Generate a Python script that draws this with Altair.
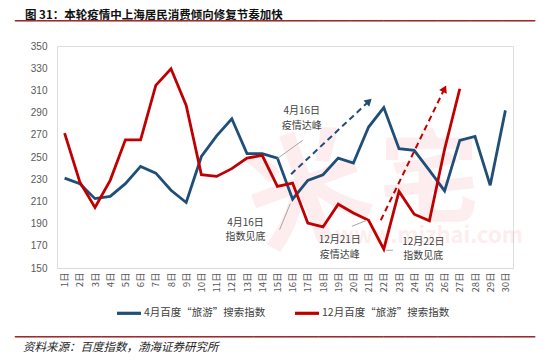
import altair as alt
import pandas as pd
import numpy as np

# ---------------- data ----------------
days = list(range(1, 31))
april = [231, 226, 212.5, 214.5, 226, 241.5, 235.5, 220, 209, 250.5,
         269, 284.5, 253, 253, 249, 212, 229, 234, 249, 244.5,
         277, 294.5, 257.5, 256, 238, 219.5, 265, 268.5, 224.5, 292]
december = [271.5, 227.5, 204.5, 229, 265.5, 265.5, 314.5, 329.5, 296.5, 234,
            232.5, 239.5, 249, 251.5, 223.5, 226.5, 190.5, 187, 207.5, 199.5,
            193, 167, 219, 198.5, 192.5, 257, 311.5]
series_names = ["4月百度“旅游”搜索指数", "12月百度“旅游”搜索指数"]
series_colors = ["#1F4E79", "#C00000"]
y_ticks = list(range(150, 351, 20))

# dashed trend arrows (start / tip in data units)
arrow_series = series_names
arrow_x0 = [15.9, 21.8]
arrow_y0 = [234.5, 193]
arrow_x1 = [21.2, 26.1]
arrow_y1 = [302.5, 314.5]

# annotation texts
ann_text = ["4月16日", "疫情达峰", "4月16日", "指数见底",
            "12月21日", "疫情达峰", "12月22日", "指数见底"]
ann_x = [16.6, 16.6, 12.9, 12.9, 19.1, 19.1, 24.6, 24.6]
ann_y = [291, 278.2, 190.5, 177.7, 174.8, 162, 173.2, 160.4]

# leader lines
leader_x0 = [16.66, 15.15, 19.9, 22.15]
leader_y0 = [265, 184.6, 187.6, 166]
leader_x1 = [15.0, 15.85, 20.9, 22.6]
leader_y1 = [248.6, 208, 193, 166]

title_text = "图 31：本轮疫情中上海居民消费倾向修复节奏加快"
source_text = "资料来源：百度指数，渤海证券研究所"

# ---------------- layout ----------------
W, H = 456, 222
XDOM = [0.5, 30.5]
YDOM = [150, 350]
px_per_day = W / (XDOM[1] - XDOM[0])
px_per_unit = H / (YDOM[1] - YDOM[0])
CJK = "Noto Sans CJK SC"

rows = []
for d, v in zip(days, april):
    rows.append({"day": d, "value": v, "series": series_names[0]})
for d, v in zip(days, december):
    rows.append({"day": d, "value": v, "series": series_names[1]})
df = pd.DataFrame(rows)

xs = alt.Scale(domain=XDOM, nice=False, zero=False)
ys = alt.Scale(domain=YDOM, nice=False, zero=False)
cs = alt.Scale(domain=series_names, range=series_colors)

x_axis = alt.Axis(values=days, labelExpr="datum.value + '日'", labelAngle=270,
                  title=None, grid=False, ticks=False, domain=True,
                  domainColor="#d9d9d9", domainWidth=1.2, labelFontSize=9.5,
                  labelFont=CJK, labelColor="#595959", labelPadding=4,
                  labelOverlap=False, labelFlush=False, labelBound=False)
y_axis = alt.Axis(values=y_ticks, title=None, grid=False, ticks=False,
                  domain=False, labelFontSize=10, labelFont="Liberation Sans",
                  labelColor="#595959", labelPadding=10, labelOverlap=False,
                  labelFlush=False, labelBound=False)


def X(field):
    return alt.X(field, scale=xs, axis=x_axis)


def Y(field):
    return alt.Y(field, scale=ys, axis=y_axis)


# watermark
wm = pd.DataFrame({"t": ["米", "宅", "www.mizhai.com"],
                   "px": [252, 372, 372], "py": [150, 138, 190],
                   "sz": [120, 100, 22], "ang": [340, 0, 0]})
watermark = alt.Chart(wm).mark_text(font=CJK, color="#EE5A5F", opacity=0.1,
                                    align="center", baseline="middle", fontWeight="bold").encode(
    x=alt.X("px:Q", scale=None), y=alt.Y("py:Q", scale=None),
    text="t:N", size=alt.Size("sz:Q", scale=None, legend=None),
    angle=alt.Angle("ang:Q", scale=None))

lines = alt.Chart(df).mark_line(strokeWidth=2.8).encode(
    x=X("day:Q"), y=Y("value:Q"),
    color=alt.Color("series:N", scale=cs, sort=series_names,
                    legend=alt.Legend(title=None, orient="none", direction="horizontal",
                                      legendX=58, legendY=253, symbolType="stroke",
                                      symbolSize=576, symbolStrokeWidth=3.2,
                                      labelFont=CJK, labelFontSize=10.5,
                                      labelColor="#404040", labelOffset=1,
                                      columnPadding=22)),
)

arr = pd.DataFrame({"series": arrow_series, "x0": arrow_x0, "y0": arrow_y0,
                    "x1": arrow_x1, "y1": arrow_y1})
dx = (arr["x1"] - arr["x0"]) * px_per_day
dy = (arr["y1"] - arr["y0"]) * px_per_unit
arr["ang"] = np.degrees(np.arctan2(dx, dy))
arr["hx"] = arr["x1"] - 0.12 * (arr["x1"] - arr["x0"]) / np.hypot(dx, dy) * 30
arr["hy"] = arr["y1"] - 0.12 * (arr["y1"] - arr["y0"]) / np.hypot(dx, dy) * 30

arrow_lines = alt.Chart(arr).mark_rule(strokeWidth=2, strokeDash=[6, 4]).encode(
    x=X("x0:Q"), y=Y("y0:Q"), x2="hx:Q", y2="hy:Q",
    color=alt.Color("series:N", scale=cs, legend=None))
arrow_heads = alt.Chart(arr).mark_point(shape="triangle-up", filled=True, size=70, opacity=1).encode(
    x=X("hx:Q"), y=Y("hy:Q"),
    angle=alt.Angle("ang:Q", scale=None),
    color=alt.Color("series:N", scale=cs, legend=None))

ldf = pd.DataFrame({"x0": leader_x0, "y0": leader_y0, "x1": leader_x1, "y1": leader_y1})
leaders = alt.Chart(ldf).mark_rule(color="#a6a6a6", strokeWidth=1).encode(
    x=X("x0:Q"), y=Y("y0:Q"), x2="x1:Q", y2="y1:Q")

adf = pd.DataFrame({"t": ann_text, "x": ann_x, "y": ann_y})
ann = alt.Chart(adf).mark_text(font=CJK, fontSize=10, color="#404040",
                               align="center", baseline="middle").encode(
    x=X("x:Q"), y=Y("y:Q"), text="t:N")

title = alt.Chart(pd.DataFrame({"t": [title_text]})).mark_text(
    font=CJK, fontSize=11.5, fontWeight="bold", color="#111111",
    align="left", baseline="middle").encode(
    x=alt.value(-32), y=alt.value(-30.5), text="t:N")
source = alt.Chart(pd.DataFrame({"t": [source_text]})).mark_text(
    font=CJK, fontSize=11.5, fontStyle="italic", color="#262626",
    align="left", baseline="middle").encode(
    x=alt.value(-34), y=alt.value(302), text="t:N")

# decorative dark-red divider lines above the plot and above the source note,
# drawn as joined box-drawing glyphs
divider = "─" * 48
div_df = pd.DataFrame({"t": [divider, divider], "px": [-42, -42], "py": [-18.6, 296.9]})
dividers = alt.Chart(div_df).mark_text(
    font="DejaVu Sans Mono", fontSize=18, color="#9E2A2B",
    align="left", baseline="alphabetic").encode(
    x=alt.X("px:Q", scale=None), y=alt.Y("py:Q", scale=None), text="t:N")

chart = alt.layer(watermark, lines, arrow_lines, arrow_heads, leaders, ann,
                  title, source, dividers).properties(
    width=W, height=H,
    autosize=alt.AutoSizeParams(type="none"),
    padding={"left": 49, "top": 38, "right": 33, "bottom": 87},
).configure_view(stroke=None).configure_axis(labelOverlap=False).configure(background="white")

chart.save("out.html", embed_options={"renderer": "svg", "actions": False})
